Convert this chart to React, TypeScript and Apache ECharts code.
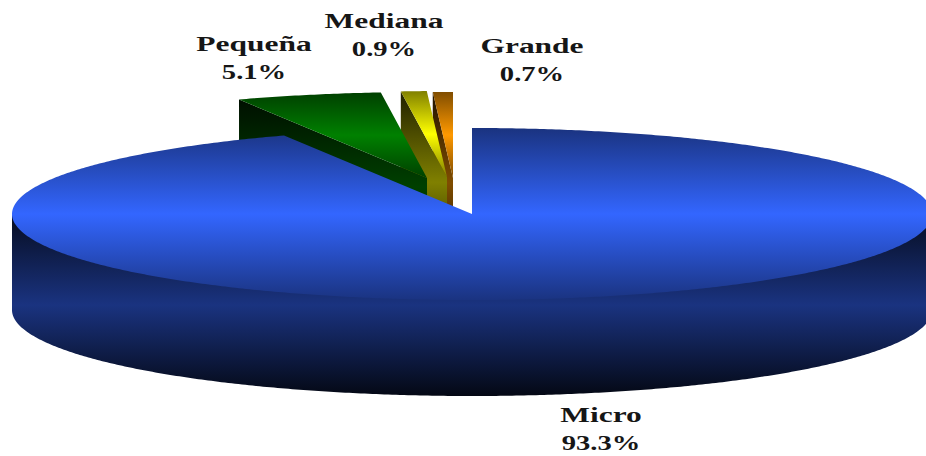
import React, { useEffect, useRef } from "react";
import * as echarts from "echarts";

// Company size shares, clockwise from twelve o'clock.
const categories = ["Micro", "Pequeña", "Mediana", "Grande"];
const shares = [93.3, 5.1, 0.9, 0.7];

// Disc geometry of the tilted pie.
const CX = 472;
const CY = 214;
const RX = 460;
const RY = 86;
const DEPTH = 96;

// Per-slice display settings: offset from the disc centre, base colour, label anchor.
const sliceOffsets = [[0, 0], [-45, -36], [-25, -37], [-19, -36]];
const sliceColors = [[51, 102, 255], [0, 128, 0], [255, 255, 0], [255, 153, 0]];
const nameAnchors = [[601, 415], [254, 44], [384, 21], [532, 46]];
const LINE_GAP = 28;

const rgb = (c: number[], k: number) =>
  `rgb(${Math.round(c[0] * k)},${Math.round(c[1] * k)},${Math.round(c[2] * k)})`;

const faceFill = (c: number[]) =>
  new echarts.graphic.LinearGradient(0, 0, 0, 1, [
    { offset: 0, color: rgb(c, 0.5) },
    { offset: 0.5, color: rgb(c, 1) },
    { offset: 1, color: rgb(c, 0.5) },
  ]);

const wallFill = (c: number[]) =>
  new echarts.graphic.LinearGradient(0, 0, 0, 1, [
    { offset: 0, color: rgb(c, 0.12) },
    { offset: 0.5, color: rgb(c, 0.5) },
    { offset: 1, color: rgb(c, 0.08) },
  ]);

const toPath = (pts: number[][]) =>
  "M" + pts.map((p) => `${p[0].toFixed(2)} ${p[1].toFixed(2)}`).join("L") + "Z";

// Point on the rim at a clockwise angle (degrees) from the top of the ellipse.
const rim = (deg: number, dx: number, dy: number, drop = 0) => {
  const a = (deg * Math.PI) / 180;
  return [CX + dx + RX * Math.sin(a), CY + dy + drop - RY * Math.cos(a)];
};

const arc = (from: number, to: number, dx: number, dy: number, drop = 0) => {
  const pts: number[][] = [];
  const steps = Math.max(2, Math.ceil(Math.abs(to - from) * 2));
  for (let i = 0; i <= steps; i++) {
    pts.push(rim(from + ((to - from) * i) / steps, dx, dy, drop));
  }
  return pts;
};

const labelText = (text: string, x: number, y: number, scaleX: number) => ({
  type: "text",
  z2: 100,
  x,
  y,
  scaleX,
  style: {
    text,
    fill: "#161616",
    font: 'bold 22px "Liberation Serif", serif',
    textAlign: "center",
    textVerticalAlign: "middle",
  },
});

const renderSlice = (params: any, api: any) => {
  const idx = params.dataIndex;
  const total = shares.reduce((s, v) => s + v, 0);
  const before = shares.slice(0, idx).reduce((s, v) => s + v, 0);
  const start = (before / total) * 360;
  const end = start + (api.value(0) / total) * 360;
  const [dx, dy] = sliceOffsets[idx];
  const color = sliceColors[idx];
  const order = (shares.length - idx) * 2;

  const apex = [CX + dx, CY + dy];
  const top = [apex, ...arc(start, end, dx, dy)];

  // Micro shows its curved front wall, closed under the disc by a chord so no
  // seam runs along the rim; the pulled-out slices show a straight cut wall.
  let wall: number[][];
  if (idx === 0) {
    wall = [rim(270, dx, dy), ...arc(270, 90, dx, dy, DEPTH), rim(90, dx, dy)];
  } else {
    const outer = rim(start, dx, dy);
    wall = [apex, outer, [outer[0], outer[1] + DEPTH], [apex[0], apex[1] + DEPTH]];
  }

  const [lx, ly] = nameAnchors[idx];
  return {
    type: "group",
    children: [
      {
        type: "path",
        z2: order,
        shape: { pathData: toPath(wall) },
        style: { fill: wallFill(color) },
      },
      {
        type: "path",
        z2: order + 1,
        shape: { pathData: toPath(top) },
        style: { fill: faceFill(color) },
      },
      labelText(categories[idx], lx, ly, 1.43),
      labelText(`${api.value(0).toFixed(1)}%`, lx, ly + LINE_GAP, 1.3),
    ],
  };
};

export default function App() {
  const ref = useRef<HTMLDivElement>(null);

  useEffect(() => {
    document.body.style.margin = "0";
    const chart = echarts.init(ref.current!, null, { renderer: "svg" });
    chart.setOption({
      animation: false,
      backgroundColor: "#ffffff",
      series: [
        {
          type: "custom",
          coordinateSystem: "none",
          silent: true,
          renderItem: renderSlice,
          data: shares.map((v, i) => ({ name: categories[i], value: [v] })),
        },
      ],
    });
    return () => chart.dispose();
  }, []);

  return <div ref={ref} style={{ width: 926, height: 456 }} />;
}
